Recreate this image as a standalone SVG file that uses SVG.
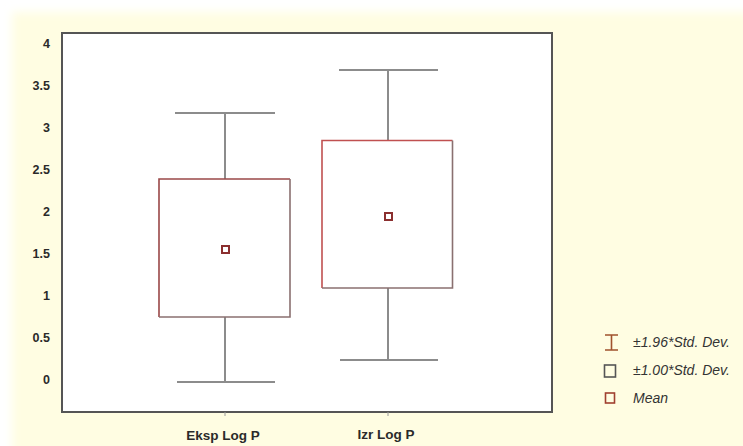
<svg xmlns="http://www.w3.org/2000/svg" width="743" height="446" viewBox="0 0 743 446">
<defs>
<filter id="soft" x="-5%" y="-5%" width="110%" height="110%"><feGaussianBlur stdDeviation="5"/></filter>
<style>
.ylab{font-family:"Liberation Sans",Arial,sans-serif;font-size:12.5px;font-weight:bold;fill:#2a2a2a;text-anchor:end}
.xlab{font-family:"Liberation Sans",Arial,sans-serif;font-size:13.5px;font-weight:bold;fill:#2a2a2a;text-anchor:middle}
.leg{font-family:"Liberation Sans",Arial,sans-serif;font-size:14px;font-style:italic;fill:#333}
.whisk{stroke:#8c8c8c;stroke-width:2;fill:none}
.boxl{stroke:#9a4848;stroke-width:1.6;fill:none}
.boxr{stroke:#8a7070;stroke-width:1.6;fill:none}
.mean{stroke:#8b2f2f;stroke-width:2;fill:#fff}
</style>
</defs>
<rect x="0" y="0" width="743" height="446" fill="#ffffff"/>
<rect x="12" y="12" width="760" height="460" fill="#fffde2" filter="url(#soft)"/>
<g id="plot-frame">
<rect x="62" y="33" width="490" height="379" fill="#ffffff" stroke="#555555" stroke-width="2"/>
<line x1="225" y1="412" x2="225" y2="416" stroke="#999" stroke-width="1"/>
<line x1="388" y1="412" x2="388" y2="416" stroke="#999" stroke-width="1"/>
</g>
<g id="y-axis">
<text class="ylab" x="50" y="48">4</text>
<text class="ylab" x="50" y="90">3.5</text>
<text class="ylab" x="50" y="132">3</text>
<text class="ylab" x="50" y="174">2.5</text>
<text class="ylab" x="50" y="216">2</text>
<text class="ylab" x="50" y="258">1.5</text>
<text class="ylab" x="50" y="300">1</text>
<text class="ylab" x="50" y="342">0.5</text>
<text class="ylab" x="50" y="384">0</text>
</g>
<g id="connectors">
<line class="whisk" x1="225" y1="113" x2="225" y2="179"/>
<line class="whisk" x1="175" y1="113" x2="275" y2="113"/>
<line class="whisk" x1="225" y1="317" x2="225" y2="382"/>
<line class="whisk" x1="177" y1="382" x2="275" y2="382"/>
<line class="whisk" x1="388" y1="70" x2="388" y2="140"/>
<line class="whisk" x1="339" y1="70" x2="438" y2="70"/>
<line class="whisk" x1="388" y1="288" x2="388" y2="360"/>
<line class="whisk" x1="340" y1="360" x2="438" y2="360"/>
</g>
<g id="box-eksp">
<path class="boxl" d="M159,317 V179 H290"/>
<path class="boxr" d="M290,179 V317 H159"/>
<rect class="mean" x="222" y="246" width="7" height="7"/>
</g>
<g id="box-izr">
<path class="boxl" d="M322,288 V140.5 H452.5" style="stroke:#c05050"/>
<path class="boxr" d="M452.5,140.5 V288 H322"/>
<rect class="mean" x="385" y="213" width="7" height="7"/>
</g>
<g id="x-labels">
<text class="xlab" x="223" y="440">Eksp Log P</text>
<text class="xlab" x="386" y="439">Izr Log P</text>
</g>
<g id="legend">
<path d="M605,335 H618 M611.5,335 V350 M605,350 H618" stroke="#a0522d" stroke-width="1.6" fill="none"/>
<text class="leg" x="633" y="347">±1.96*Std. Dev.</text>
<rect x="604.5" y="365" width="11" height="12" fill="none" stroke="#555" stroke-width="1.6"/>
<text class="leg" x="633" y="375">±1.00*Std. Dev.</text>
<rect x="605.5" y="393" width="9" height="10" fill="none" stroke="#a04030" stroke-width="1.6"/>
<text class="leg" x="633" y="403">Mean</text>
</g>
</svg>
